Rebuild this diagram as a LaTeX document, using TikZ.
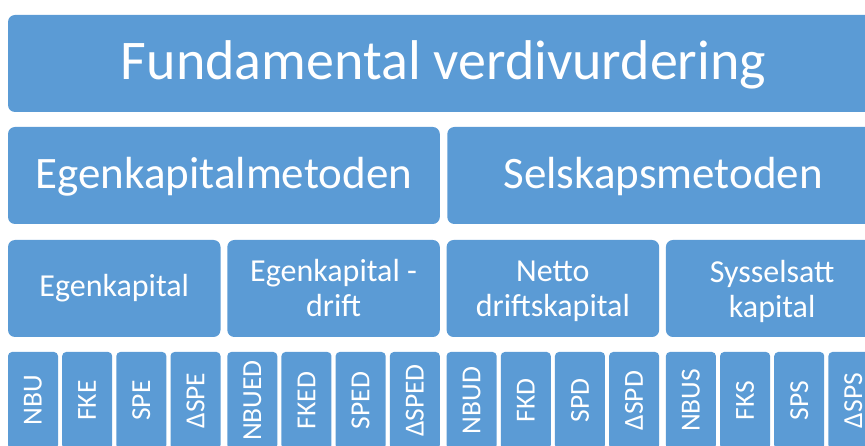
\documentclass[tikz,border=0pt]{standalone}
\usepackage{fontspec}
\setmainfont{Carlito}
\usetikzlibrary{calc}
\definecolor{smartblue}{RGB}{91,155,213}

\begin{document}
\begin{tikzpicture}[x=1pt,y=-1pt,
  blokk/.style={fill=smartblue,text=white,align=center,inner sep=0pt,rounded corners=7pt},
  niva1/.style={blokk,minimum width=871.1,minimum height=97,text height=44pt,text depth=11pt,font=\fontsize{56}{67}\selectfont},
  niva2/.style={blokk,minimum width=431.8,minimum height=97,text height=35pt,text depth=9pt,font=\fontsize{45}{54}\selectfont},
  niva3/.style={blokk,minimum width=212.5,minimum height=97,font=\fontsize{32}{35}\selectfont},
  niva4/.style={blokk,rotate=90,minimum width=97,minimum height=50,rounded corners=4pt,font=\fontsize{27.5}{33}\selectfont}]
  \useasboundingbox (0,0) rectangle (865,446);
  \clip (0,0) rectangle (865,446);
  % Toppnivå
  \node[niva1] (fund) at (443.55,63.5) {Fundamental verdivurdering};
  % Metodene
  \node[niva2] (ekm) at (223.9,175.5) {Egenkapitalmetoden};
  \node[niva2] (sm)  at (663.2,175.5) {Selskapsmetoden};
  % Kapitalbegrep
  \node[niva3] (ek)   at (114.25,288.5) {Egenkapital};
  \node[niva3] (ekd)  at (333.55,288.5) {Egenkapital -\\drift};
  \node[niva3,text depth=0pt] (ndk) at (552.85,288.5) {Netto\\driftskapital};
  \node[niva3,text depth=0pt] (sk)  at (772.15,288.5) {Sysselsatt\\kapital};
  % Komponenter (fire under hvert kapitalbegrep)
  \foreach \tekst [count=\n from 0] in {NBU,FKE,SPE,ΔSPE,NBUED,FKED,SPED,ΔSPED,NBUD,FKD,SPD,ΔSPD,NBUS,FKS,SPS,ΔSPS}{
    \pgfmathsetmacro{\xpos}{33 + floor(\n/4)*219.3 + mod(\n,4)*54.17}
    \node[niva4] (k\n) at (\xpos,400.5) {\tekst};
  }
\end{tikzpicture}
\end{document}
